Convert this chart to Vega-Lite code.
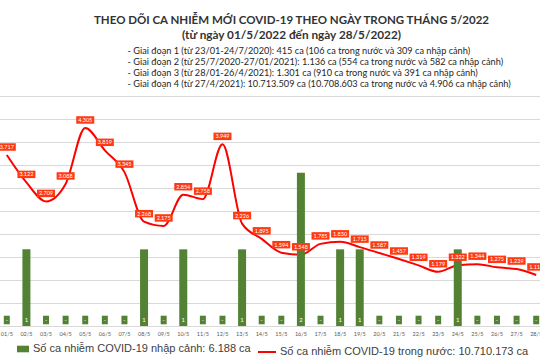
{
  "$schema": "https://vega.github.io/schema/vega-lite/v6.json",
  "width": 549,
  "height": 230,
  "autosize": {"type": "none"},
  "padding": {"left": -3, "top": 96, "right": 0, "bottom": 34},
  "background": "white",
  "title": {
    "text": "THEO DÕI CA NHIỄM MỚI COVID-19 THEO NGÀY TRONG THÁNG 5/2022",
    "subtitle": "(từ ngày 01/5/2022 đến ngày 28/5/2022)",
    "font": "Lato", "fontSize": 11.5, "fontWeight": "bold", "color": "#333333",
    "subtitleFont": "Lato", "subtitleFontSize": 11.8, "subtitleFontWeight": "bold", "subtitleColor": "#333333",
    "anchor": "middle", "dx": 20, "offset": 4, "subtitlePadding": 4
  },
  "data": {"values": [
    {"d": "01/5", "imp": 0, "dom": 3717},
    {"d": "02/5", "imp": 1, "dom": 3122},
    {"d": "03/5", "imp": 0, "dom": 2709},
    {"d": "04/5", "imp": 0, "dom": 3088},
    {"d": "05/5", "imp": 0, "dom": 4305},
    {"d": "06/5", "imp": 0, "dom": 3819},
    {"d": "07/5", "imp": 0, "dom": 3345},
    {"d": "08/5", "imp": 1, "dom": 2268},
    {"d": "09/5", "imp": 0, "dom": 2175},
    {"d": "10/5", "imp": 1, "dom": 2854},
    {"d": "11/5", "imp": 0, "dom": 2758},
    {"d": "12/5", "imp": 0, "dom": 3949},
    {"d": "13/5", "imp": 1, "dom": 2226},
    {"d": "14/5", "imp": 0, "dom": 1895},
    {"d": "15/5", "imp": 0, "dom": 1594},
    {"d": "16/5", "imp": 2, "dom": 1548},
    {"d": "17/5", "imp": 0, "dom": 1785},
    {"d": "18/5", "imp": 1, "dom": 1830},
    {"d": "19/5", "imp": 1, "dom": 1715},
    {"d": "20/5", "imp": 0, "dom": 1587},
    {"d": "21/5", "imp": 0, "dom": 1457},
    {"d": "22/5", "imp": 0, "dom": 1319},
    {"d": "23/5", "imp": 0, "dom": 1179},
    {"d": "24/5", "imp": 1, "dom": 1322},
    {"d": "25/5", "imp": 0, "dom": 1344},
    {"d": "26/5", "imp": 0, "dom": 1275},
    {"d": "27/5", "imp": 0, "dom": 1239},
    {"d": "28/5", "imp": 0, "dom": 1110}
  ]},
  "transform": [
    {"calculate": "datum.imp == 0 ? '-' : '' + datum.imp", "as": "lbl"},
    {"calculate": "replace(format(datum.dom, ','), ',', '.')", "as": "dlbl"}
  ],
  "encoding": {
    "x": {
      "field": "d", "type": "ordinal", "sort": null,
      "scale": {"paddingInner": 0, "paddingOuter": 0},
      "axis": {"title": null, "labelAngle": 0, "labelFontSize": 5.5, "labelColor": "#595959", "labelFont": "Lato",
               "ticks": false, "labelPadding": 5, "domainColor": "#d9d9d9", "grid": false}
    }
  },
  "layer": [
    {
      "mark": {"type": "line", "strokeWidth": 2, "interpolate": "monotone"},
      "encoding": {
        "y": {"field": "dom", "type": "quantitative", "scale": {"domain": [0, 5000]},
              "axis": {"orient": "left", "tickCount": 10, "labels": false, "ticks": false, "domain": false,
                       "grid": true, "gridColor": "#d9d9d9",
                       "title": ["- Giai đoạn 1 (từ 23/01-24/7/2020): 415 ca (106 ca trong nước và 309 ca nhập cảnh)",
                                 "- Giai đoạn 2 (từ 25/7/2020-27/01/2021): 1.136 ca (554 ca trong nước và 582 ca nhập cảnh)",
                                 "- Giai đoạn 3 (từ 28/01-26/4/2021): 1.301 ca (910 ca trong nước và 391 ca nhập cảnh)",
                                 "- Giai đoạn 4 (từ 27/4/2021): 10.713.509 ca (10.708.603 ca trong nước và 4.906 ca nhập cảnh)"],
                       "titleAngle": 0, "titleAlign": "left", "titleBaseline": "top", "titleX": 130, "titleY": -50,
                       "titleFont": "Lato", "titleFontSize": 9.2, "titleFontWeight": "normal", "titleColor": "#262626",
                       "titleLineHeight": 11}},
        "stroke": {"datum": "Số ca nhiễm COVID-19 trong nước: 10.710.173 ca", "type": "nominal",
                   "scale": {"range": ["#ff0000"]},
                   "legend": {"orient": "none", "legendX": 260, "legendY": 246, "title": null,
                              "symbolSize": 324, "symbolStrokeWidth": 2, "labelOffset": 3, "labelLimit": 0,
                              "labelFont": "Liberation Sans", "labelFontSize": 11, "labelColor": "#404040"}}
      }
    },
    {
      "mark": {"type": "bar", "width": 8},
      "encoding": {
        "y": {"field": "imp", "type": "quantitative", "scale": {"domain": [0, 3]}, "axis": null},
        "fill": {"datum": "Số ca nhiễm COVID-19 nhập cảnh: 6.188 ca", "type": "nominal",
                 "scale": {"range": ["#548235"]},
                 "legend": {"orient": "none", "legendX": 19, "legendY": 246, "title": null,
                            "symbolType": "M-1,-0.55L1,-0.55L1,0.55L-1,0.55Z", "symbolSize": 144, "labelOffset": 3,
                            "labelLimit": 0,
                            "labelFont": "Liberation Sans", "labelFontSize": 11, "labelColor": "#404040"}}
      }
    },
    {
      "mark": {"type": "point", "shape": "M-1,-1.43L1,-1.43L1,1.43L-1,1.43Z", "size": 36, "filled": true,
               "color": "#548235", "opacity": 1, "yOffset": -6},
      "encoding": {
        "y": {"datum": 0, "type": "quantitative", "scale": {"domain": [0, 3]}, "axis": null}
      }
    },
    {
      "mark": {"type": "text", "color": "white", "fontSize": 6, "font": "Lato", "baseline": "middle", "yOffset": -6},
      "encoding": {
        "y": {"datum": 0, "type": "quantitative", "scale": {"domain": [0, 3]}, "axis": null},
        "text": {"field": "lbl"}
      }
    },
    {
      "mark": {"type": "point", "shape": "M-2,-0.83L2,-0.83L2,0.83L-2,0.83Z", "size": 81, "filled": true,
               "color": "#ff3a12", "opacity": 1, "yOffset": -8},
      "encoding": {
        "y": {"field": "dom", "type": "quantitative", "scale": {"domain": [0, 5000]}, "axis": null}
      }
    },
    {
      "mark": {"type": "text", "color": "white", "fontSize": 5.5, "font": "Lato", "baseline": "middle", "yOffset": -8},
      "encoding": {
        "y": {"field": "dom", "type": "quantitative", "scale": {"domain": [0, 5000]}, "axis": null},
        "text": {"field": "dlbl"}
      }
    }
  ],
  "resolve": {"scale": {"y": "independent", "fill": "independent", "stroke": "independent"}},
  "config": {"view": {"stroke": null}}
}
